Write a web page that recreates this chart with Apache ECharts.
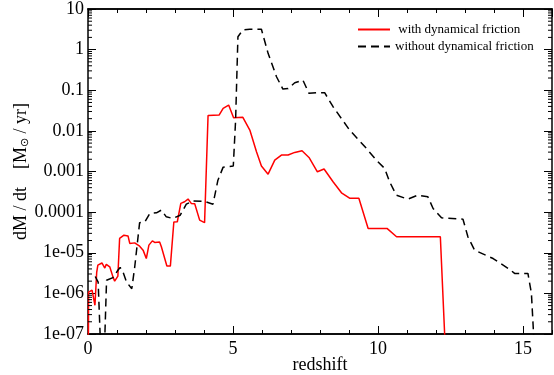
<!DOCTYPE html>
<html>
<head>
<meta charset="utf-8">
<script src="https://cdn.jsdelivr.net/npm/echarts@6/dist/echarts.min.js"></script>
<style>
  html, body { margin: 0; padding: 0; background: #fff; }
  #chart { width: 554px; height: 375px; }
</style>
</head>
<body>
<div id="chart"></div>
<script>
// red curve: with dynamical friction  [redshift, dM/dt]
var withFriction = [
  [0.01, 1e-8], [0.02, 1.07e-6], [0.06, 1.07e-6], [0.14, 1.2e-6], [0.18, 8.5e-7],
  [0.24, 5.1e-7], [0.30, 3.3e-6], [0.34, 4.95e-6], [0.48, 5.6e-6], [0.58, 4.2e-6],
  [0.63, 5.2e-6], [0.75, 4.5e-6], [0.86, 2.55e-6], [0.92, 2.0e-6], [1.03, 2.65e-6],
  [1.09, 2.25e-5], [1.24, 2.7e-5], [1.38, 2.6e-5], [1.44, 1.7e-5], [1.61, 1.75e-5],
  [1.78, 1.45e-5], [1.90, 1.16e-5], [2.01, 7.2e-6], [2.10, 1.54e-5], [2.22, 1.96e-5],
  [2.30, 1.8e-5], [2.47, 1.85e-5], [2.53, 1.4e-5], [2.72, 4.7e-6], [2.84, 4.7e-6],
  [2.96, 5.7e-5], [3.08, 5.8e-5], [3.20, 1.64e-4], [3.33, 1.8e-4], [3.45, 2.1e-4],
  [3.56, 1.64e-4], [3.68, 1.6e-4], [3.85, 6.35e-5], [4.02, 5.5e-5], [4.14, 0.0238],
  [4.52, 0.0245], [4.66, 0.0358], [4.85, 0.0431], [5.02, 0.021], [5.34, 0.0215],
  [5.58, 0.0105], [5.81, 0.00305], [5.98, 0.00136], [6.21, 8.6e-4], [6.44, 0.00191],
  [6.67, 0.00254], [6.90, 0.00254], [7.13, 0.00295], [7.38, 0.00324], [7.62, 0.00222],
  [7.91, 9.85e-4], [8.14, 0.00115], [8.45, 5.6e-4], [8.74, 2.99e-4], [9.02, 2.2e-4],
  [9.34, 2.2e-4], [9.66, 3.97e-5], [10.31, 3.97e-5], [10.64, 2.47e-5], [12.15, 2.47e-5],
  [12.36, 1e-8]
];

// black dashed curve: without dynamical friction
var withoutFriction = [
  [0.25, 2.6e-6], [0.35, 1.9e-6], [0.47, 1e-8], [0.54, 1e-8], [0.64, 2.1e-6],
  [0.86, 2.44e-6], [1.03, 3.7e-6], [1.11, 4.35e-6], [1.21, 3.3e-6], [1.33, 1.9e-6],
  [1.51, 1.3e-6], [1.61, 4.4e-6], [1.78, 5.5e-5], [1.96, 5.7e-5], [2.13, 9.3e-5],
  [2.36, 9.6e-5], [2.53, 1.12e-4], [2.70, 7.65e-5], [2.92, 7.0e-5], [3.18, 8.4e-5],
  [3.39, 1.57e-4], [3.62, 1.89e-4], [4.02, 1.83e-4], [4.31, 1.57e-4], [4.48, 6.1e-4],
  [4.66, 0.00128], [5.01, 0.00136], [5.09, 0.0184], [5.17, 2.08], [5.34, 3.04],
  [5.58, 3.16], [5.98, 3.16], [6.21, 0.81], [6.50, 0.215], [6.72, 0.107],
  [6.90, 0.11], [7.13, 0.153], [7.41, 0.178], [7.62, 0.084], [7.88, 0.087],
  [8.16, 0.087], [8.45, 0.0393], [9.02, 0.0105], [9.60, 0.0037], [9.94, 0.00191],
  [10.23, 0.00119], [10.40, 5.6e-4], [10.63, 2.62e-4], [11.03, 2.09e-4], [11.38, 2.62e-4],
  [11.72, 2.38e-4], [11.90, 1.23e-4], [12.19, 7.25e-5], [12.93, 6.7e-5], [13.10, 2.47e-5],
  [13.33, 1.16e-5], [13.97, 7.2e-6], [14.54, 3.9e-6], [14.71, 3.1e-6], [15.17, 3.1e-6],
  [15.29, 1.0e-6], [15.44, 1e-8]
];

var seriesNames = [' with dynamical friction', 'without dynamical friction'];
var xMin = 0, xMax = 16;
var yMin = 1e-7, yMax = 10;

// log minor tick values 2..9 per decade
var minorY = [];
for (var e = -7; e < 1; e++) {
  for (var m = 2; m <= 9; m++) {
    minorY.push([xMin, m * Math.pow(10, e)]);
  }
}

var font = 'Liberation Serif';

function logLabel(v) {
  var e = Math.round(Math.log(v) / Math.LN10);
  if (e >= 0) return String(Math.pow(10, e));
  if (e >= -4) return '0.' + new Array(-e).join('0') + '1';
  return '1e-0' + (-e);
}

var chart = echarts.init(document.getElementById('chart'));

// x axes: bottom major / minor, top major / minor
function xAxis(pos, interval, len, labels) {
  return {
    type: 'value', position: pos, min: xMin, max: xMax, interval: interval,
    axisLine: { show: true, onZero: false, lineStyle: { color: '#000', width: 1.5 } },
    axisTick: { show: true, inside: true, length: len, lineStyle: { color: '#000', width: 1 } },
    axisLabel: {
      show: labels, margin: 6, color: '#000', fontFamily: font, fontSize: 18,
      showMaxLabel: false
    },
    splitLine: { show: false },
    name: labels ? 'redshift' : '', nameLocation: 'middle', nameGap: 22,
    nameMoveOverlap: false,
    nameTextStyle: { color: '#000', fontFamily: font, fontSize: 18 }
  };
}

function yAxis(pos, labels) {
  return {
    type: 'log', logBase: 10, position: pos, min: yMin, max: yMax, interval: 1,
    axisLine: { show: true, onZero: false, lineStyle: { color: '#000', width: 1.5 } },
    axisTick: { show: true, inside: true, length: 8, lineStyle: { color: '#000', width: 1 } },
    axisLabel: {
      show: labels, margin: 4, color: '#000', fontFamily: font, fontSize: 18,
      formatter: logLabel
    },
    splitLine: { show: false },
    name: labels ? 'dM / dt    [M{s|\u2299} / yr]' : '',
    nameLocation: 'middle', nameGap: 57, nameRotate: 90,
    nameMoveOverlap: false,
    nameTextStyle: {
      color: '#000', fontFamily: font, fontSize: 18,
      rich: { s: { fontFamily: font, fontSize: 11, color: '#000', padding: [8, 0, 0, 0] } }
    }
  };
}

chart.setOption({
  animation: false,
  backgroundColor: '#fff',
  grid: { left: 88, right: 2, top: 9, bottom: 41, containLabel: false, outerBoundsMode: 'none' },
  legend: {
    orient: 'vertical', left: 352, top: 18, itemWidth: 32, itemHeight: 12, itemGap: 4,
    itemStyle: { opacity: 0 },
    textStyle: { fontFamily: font, fontSize: 13, color: '#000' },
    data: seriesNames
  },
  xAxis: [
    xAxis('bottom', 5, 8, true),
    xAxis('bottom', 1, 4, false),
    xAxis('top', 5, 8, false),
    xAxis('top', 1, 4, false)
  ],
  yAxis: [yAxis('left', true), yAxis('right', false)],
  series: [
    {
      name: seriesNames[0], type: 'line', symbol: 'none', data: withFriction,
      lineStyle: { color: '#ff0000', width: 1.5 }, itemStyle: { color: '#ff0000' }
    },
    {
      name: seriesNames[1], type: 'line', symbol: 'none', data: withoutFriction,
      lineStyle: { color: '#000', width: 1.5, type: [8, 5] }, itemStyle: { color: '#000' }
    },
    {
      // minor log ticks on left and right edges
      type: 'custom', silent: true, z: 5, data: minorY,
      renderItem: function (params, api) {
        var v = api.value(1);
        var l = api.coord([xMin, v]);
        var r = api.coord([xMax, v]);
        var st = { stroke: '#000', lineWidth: 1 };
        return {
          type: 'group',
          children: [
            { type: 'line', shape: { x1: l[0], y1: l[1], x2: l[0] + 4, y2: l[1] }, style: st },
            { type: 'line', shape: { x1: r[0], y1: r[1], x2: r[0] - 4, y2: r[1] }, style: st }
          ]
        };
      }
    }
  ]
});
</script>
</body>
</html>
